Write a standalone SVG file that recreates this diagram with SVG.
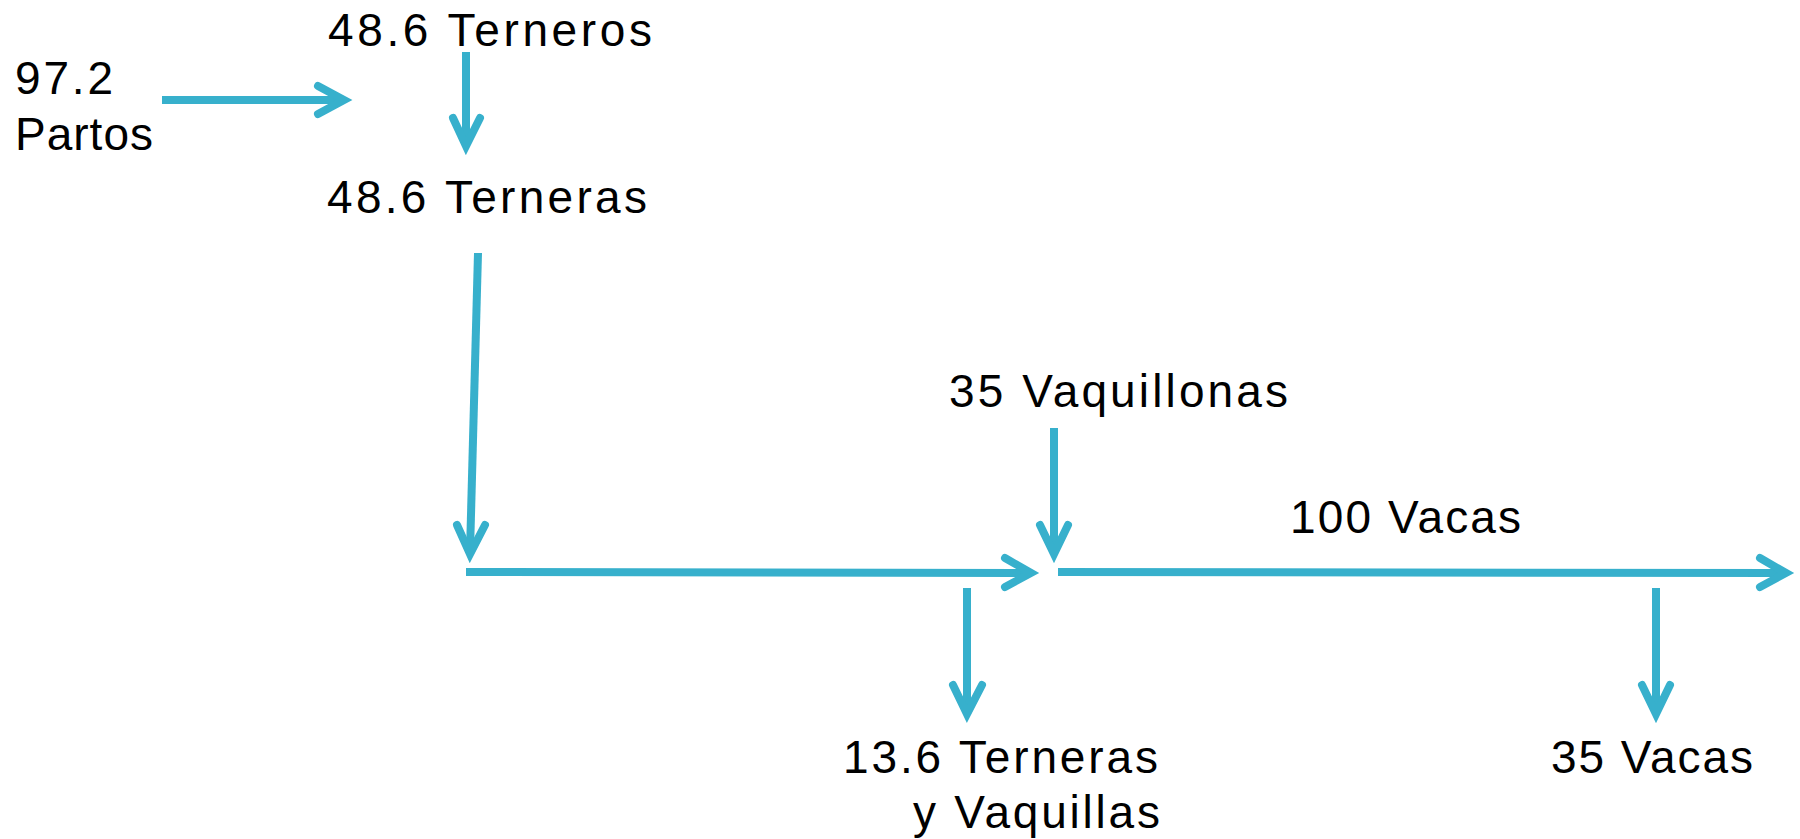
<svg xmlns="http://www.w3.org/2000/svg" width="1800" height="839" viewBox="0 0 1800 839">
<style>
.t{font-family:"Liberation Sans",Arial,sans-serif;font-size:46px;fill:#000;}
.c line,.c polyline{stroke:#37b0cc;stroke-width:8;fill:none;stroke-linecap:round;stroke-linejoin:miter;}
.c line{stroke-linecap:butt;}
</style>
<rect width="1800" height="839" fill="#fff"/>
<g id="n-partos"><text class="t" x="15" y="94" textLength="98">97.2</text><text class="t" x="15" y="150" textLength="138">Partos</text></g>
<g id="n-terneros"><text class="t" x="328" y="46" textLength="324">48.6 Terneros</text></g>
<g id="n-terneras"><text class="t" x="327" y="213" textLength="320">48.6 Terneras</text></g>
<g id="n-vaquillonas"><text class="t" x="949" y="407" textLength="339">35 Vaquillonas</text></g>
<g id="n-100vacas"><text class="t" x="1290" y="533" textLength="231">100 Vacas</text></g>
<g id="n-descarte"><text class="t" x="843" y="773" textLength="315">13.6 Terneras</text><text class="t" x="913" y="828" textLength="247">y Vaquillas</text></g>
<g id="n-35vacas"><text class="t" x="1551" y="773" textLength="202">35 Vacas</text></g>
<g id="connectors" class="c">
<line x1="162" y1="100" x2="342" y2="100"/>
<polyline points="318,86 344,100 318,114"/>
<line x1="466" y1="52" x2="466" y2="144"/>
<polyline points="453,118 466,146 480,118"/>
<line x1="478" y1="253" x2="470" y2="552"/>
<polyline points="457,525 470,554 485,525"/>
<line x1="466" y1="572" x2="1030" y2="573"/>
<polyline points="1005,558 1031,573 1005,587"/>
<line x1="1054" y1="428" x2="1054" y2="552"/>
<polyline points="1040,525 1054,554 1068,525"/>
<line x1="1058" y1="572" x2="1785" y2="573"/>
<polyline points="1760,558 1786,573 1760,587"/>
<line x1="967" y1="588" x2="967" y2="712"/>
<polyline points="953,685 967,714 982,685"/>
<line x1="1656" y1="588" x2="1656" y2="712"/>
<polyline points="1642,685 1656,714 1670,685"/>
</g>
</svg>
